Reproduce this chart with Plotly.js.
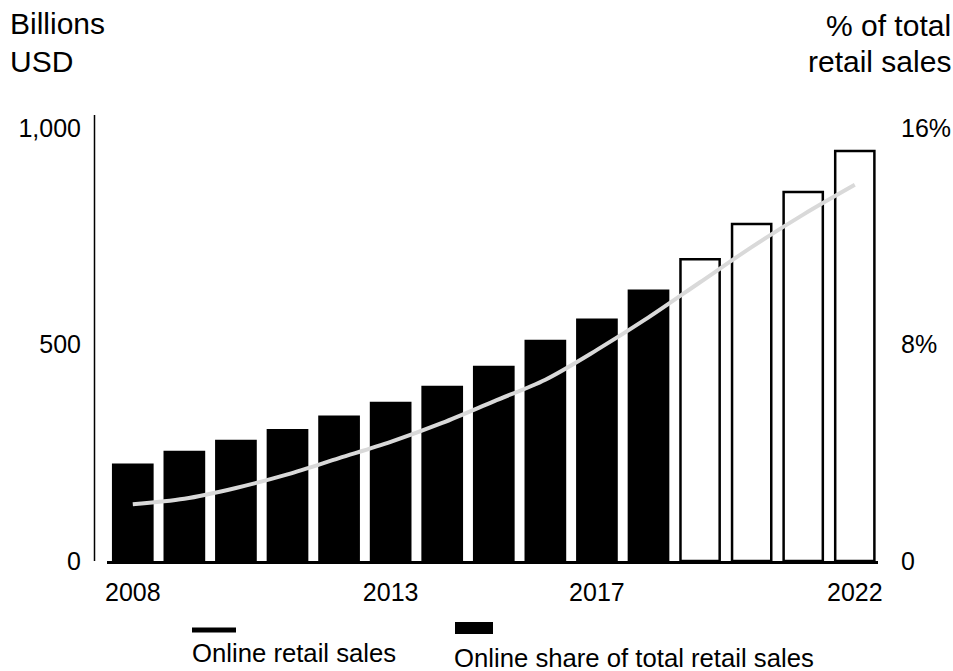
<!DOCTYPE html>
<html>
<head>
<meta charset="utf-8">
<script src="https://cdn.plot.ly/plotly-3.0.1.min.js"></script>
<style>html,body{margin:0;padding:0;background:#fff;}#chart{width:953px;height:671px;}</style>
</head>
<body>
<div id="chart"></div>
<script>
const years = [2008,2009,2010,2011,2012,2013,2014,2015,2016,2017,2018,2019,2020,2021,2022];
const salesBillions = [222,252,277,302,333,365,402,448,508,557,624,697,778,852,947];
const sharePct = [2.1,2.3,2.7,3.2,3.8,4.4,5.1,5.9,6.7,7.8,9.0,10.3,11.6,12.8,13.9];
const firstForecastYear = 2019;
const xTickVals = [2008,2013,2017,2022];
const xTickText = ['2008','2013','2017','2022'];
const yLeftTickVals = [0,500,1000];
const yLeftTickText = ['0','500','1,000'];
const yRightTickVals = [0,8,16];
const yRightTickText = ['0','8%','16%'];

const FONT = 'Liberation Sans, Arial, sans-serif';
const plotL = 107, plotR = 878, plotT = 115, plotB = 561;
const W = 953, H = 671;
const pw = plotR - plotL, ph = plotB - plotT;
const px = x => (x - plotL) / pw;
const py = y => (plotB - y) / ph;

const barColors = years.map(y => y >= firstForecastYear ? '#ffffff' : '#000000');

const traces = [
  {
    type: 'bar', x: years, y: salesBillions, width: 0.76,
    marker: {color: barColors, line: {color: '#000', width: 2.5}},
    showlegend: false, hoverinfo: 'skip'
  },
  {
    type: 'scatter', mode: 'lines', x: years, y: sharePct, yaxis: 'y2',
    line: {color: '#d9d9d9', width: 4, shape: 'spline', smoothing: 0.9},
    showlegend: false, hoverinfo: 'skip'
  }
];

const layout = {
  width: W, height: H,
  margin: {l: plotL, r: W - plotR, t: plotT, b: H - plotB, pad: 0},
  paper_bgcolor: '#fff', plot_bgcolor: '#fff',
  font: {family: FONT, size: 25, color: '#000'},
  showlegend: false,
  xaxis: {
    range: [2007.5, 2022.45], tickvals: xTickVals, ticktext: xTickText,
    showgrid: false, zeroline: false, showline: true, linecolor: '#000', linewidth: 3,
    ticks: '', ticklabelstandoff: 7, tickfont: {family: FONT, size: 25}
  },
  yaxis: {
    range: [0, 1030], tickvals: yLeftTickVals, ticktext: yLeftTickText,
    showgrid: false, zeroline: false, showline: false,
    ticks: '', ticklabelstandoff: 25, tickfont: {family: FONT, size: 25}
  },
  yaxis2: {
    overlaying: 'y', side: 'right', range: [0, 16.48],
    tickvals: yRightTickVals, ticktext: yRightTickText,
    showgrid: false, zeroline: false, showline: false,
    ticks: '', ticklabelstandoff: 22, tickfont: {family: FONT, size: 25}
  },
  annotations: [
    {xref: 'paper', yref: 'paper', x: px(8), y: py(23), xanchor: 'left', yanchor: 'middle',
     text: 'Billions', showarrow: false, font: {family: FONT, size: 30}},
    {xref: 'paper', yref: 'paper', x: px(8), y: py(62), xanchor: 'left', yanchor: 'middle',
     text: 'USD', showarrow: false, font: {family: FONT, size: 30}},
    {xref: 'paper', yref: 'paper', x: px(953), y: py(26), xanchor: 'right', yanchor: 'middle',
     text: '% of total', showarrow: false, font: {family: FONT, size: 30}},
    {xref: 'paper', yref: 'paper', x: px(953), y: py(62), xanchor: 'right', yanchor: 'middle',
     text: 'retail sales', showarrow: false, font: {family: FONT, size: 30}},
    {xref: 'paper', yref: 'paper', x: px(190), y: py(653), xanchor: 'left', yanchor: 'middle',
     text: 'Online retail sales', showarrow: false, font: {family: FONT, size: 25.7}},
    {xref: 'paper', yref: 'paper', x: px(452), y: py(658), xanchor: 'left', yanchor: 'middle',
     text: 'Online share of total retail sales', showarrow: false, font: {family: FONT, size: 25.7}}
  ],
  shapes: [
    {type: 'line', xref: 'paper', yref: 'paper', x0: px(94.5), x1: px(94.5), y0: py(115), y1: py(561),
     line: {color: '#000', width: 1.5}},
    {type: 'line', xref: 'paper', yref: 'paper', x0: px(192), x1: px(236), y0: py(630), y1: py(630),
     line: {color: '#000', width: 5}},
    {type: 'rect', xref: 'paper', yref: 'paper', x0: px(455), x1: px(493), y0: py(634), y1: py(622),
     fillcolor: '#000', line: {width: 0}}
  ]
};

Plotly.newPlot('chart', traces, layout, {displayModeBar: false, staticPlot: true});
</script>
</body>
</html>
